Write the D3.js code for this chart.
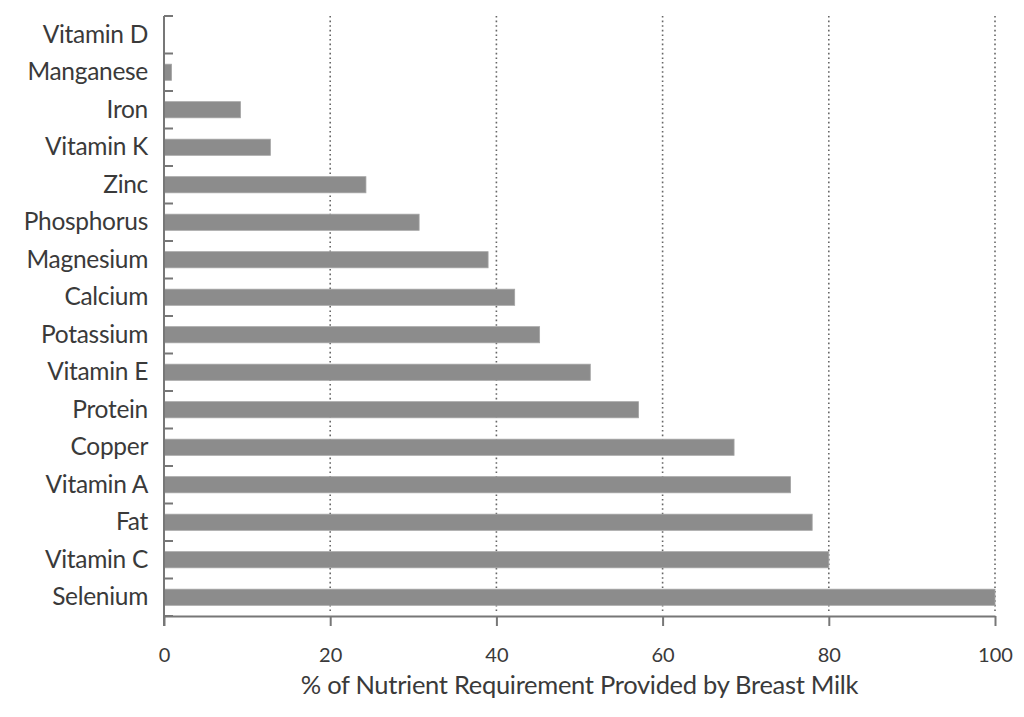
<!doctype html>
<html lang="en">
<head>
  <script src="https://cdnjs.cloudflare.com/ajax/libs/d3/7.8.5/d3.min.js"></script>
  <style type="text/css">
    body {
      padding: 0;
      margin: 0;
      background: #fff;
    }
    #canvas {
      display: block;
    }
    text {
      font-family: Lato, "Open Sans", sans-serif;
      fill: #3a3a3a;
    }
  </style>
</head>
<body>
  <svg id="canvas" width="1024" height="717"></svg>
<script>

var nutrients = ['Vitamin D', 'Manganese', 'Iron', 'Vitamin K', 'Zinc', 'Phosphorus',
  'Magnesium', 'Calcium', 'Potassium', 'Vitamin E', 'Protein', 'Copper',
  'Vitamin A', 'Fat', 'Vitamin C', 'Selenium'];
var percents = [0, 0.9, 9.2, 12.8, 24.3, 30.7, 39.0, 42.2, 45.2, 51.3, 57.1, 68.6,
  75.4, 78.0, 80.0, 100];
var xTicks = [0, 20, 40, 60, 80, 100];
var xTitle = '% of Nutrient Requirement Provided by Breast Milk';

var marginLeft = 164;
var marginRight = 29;
var marginTop = 16;
var plotBottom = 616;
var width = 1024;

var svg = d3.select('#canvas');

var x = d3.scaleLinear()
  .domain([0, 100])
  .range([marginLeft, width - marginRight]);

var y = d3.scaleBand()
  .domain(nutrients)
  .range([marginTop, plotBottom])
  .paddingInner(0.57)
  .paddingOuter(0.285);

var rows = nutrients.map(function(n, i) { return { name: n, value: percents[i] }; });

// dotted grid lines
svg.append('g').selectAll('line').data(xTicks.slice(1)).enter().append('line')
  .attr('x1', function(d) { return x(d); })
  .attr('x2', function(d) { return x(d); })
  .attr('y1', marginTop)
  .attr('y2', plotBottom - 4)
  .style('stroke', '#666')
  .style('stroke-width', 1.6)
  .style('stroke-dasharray', '1.6,3');

// bars
svg.append('g').selectAll('rect').data(rows).enter().append('rect')
  .attr('x', x(0))
  .attr('y', function(d) { return y(d.name); })
  .attr('width', function(d) { return x(d.value) - x(0); })
  .attr('height', y.bandwidth())
  .attr('fill', '#8c8c8c')
  .attr('stroke', '#a4a4a4')
  .attr('stroke-width', 0.8);

// y axis labels
var yAxis = svg.append('g')
  .attr('transform', 'translate(' + marginLeft + ',0)')
  .call(d3.axisLeft(y).tickSize(0).tickPadding(16));
yAxis.select('.domain').remove();
yAxis.selectAll('text')
  .style('font-family', 'Lato, sans-serif')
  .style('font-size', '24.5px')
  .style('letter-spacing', '-0.3px')
  .style('fill', '#3a3a3a');

// y axis line and ticks on band boundaries
var step = y.step();
var bounds = nutrients.map(function(n) { return y(n) - step * y.paddingInner() / 2; });
bounds.push(plotBottom);
svg.append('line')
  .attr('x1', marginLeft).attr('x2', marginLeft)
  .attr('y1', marginTop).attr('y2', plotBottom + 10)
  .style('stroke', '#777')
  .style('stroke-width', 2);
svg.append('g').selectAll('line').data(bounds).enter().append('line')
  .attr('x1', marginLeft)
  .attr('x2', marginLeft + 9)
  .attr('y1', function(d) { return d; })
  .attr('y2', function(d) { return d; })
  .style('stroke', '#777')
  .style('stroke-width', 2);

// x axis
var xAxis = svg.append('g')
  .attr('transform', 'translate(0,' + plotBottom + ')')
  .call(d3.axisBottom(x).tickValues(xTicks).tickSize(10).tickSizeOuter(0).tickPadding(22));
xAxis.select('.domain')
  .style('stroke', '#777')
  .style('stroke-width', 2);
xAxis.selectAll('.tick line')
  .style('stroke', '#777')
  .style('stroke-width', 2);
xAxis.selectAll('text')
  .style('font-family', 'Lato, sans-serif')
  .style('font-size', '20px')
  .style('fill', '#3a3a3a');

svg.append('text')
  .attr('x', (x(0) + x(100)) / 2)
  .attr('y', 694)
  .attr('text-anchor', 'middle')
  .style('font-size', '25.5px')
  .style('letter-spacing', '-0.3px')
  .text(xTitle);

</script>
</body>
</html>
